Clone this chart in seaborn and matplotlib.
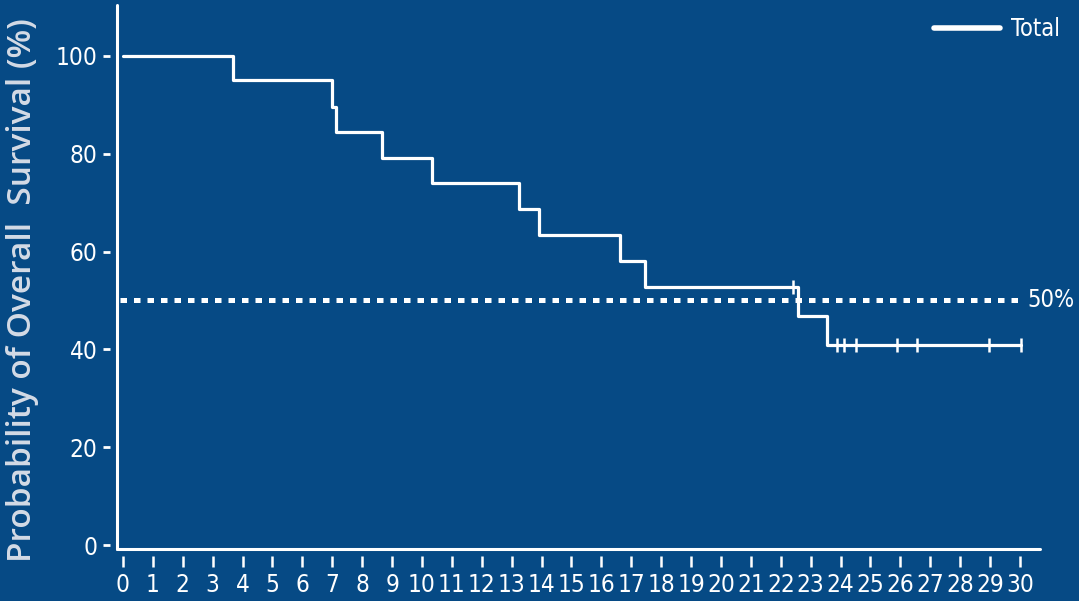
import numpy as np
import pandas as pd
import matplotlib
matplotlib.use('Agg')
import matplotlib.pyplot as plt
import seaborn as sns

# Kaplan-Meier steps (months, %)
times = [0, 3.68, 6.99, 7.12, 8.66, 10.33, 13.24, 13.9, 16.62, 17.46, 22.57, 23.55, 30.02]
surv = [100, 95.1, 89.6, 84.5, 79.1, 74.0, 68.7, 63.4, 58.1, 52.8, 46.8, 40.9, 40.9]

# censored observations
cens_times = [22.4, 23.88, 24.1, 24.5, 25.89, 26.54, 28.97, 30.02]
cens_surv = [52.8, 40.9, 40.9, 40.9, 40.9, 40.9, 40.9, 40.9]

x_ticks = list(range(0, 31))
y_ticks = [0, 20, 40, 60, 80, 100]
median_level = 50

bg = '#064a85'
fg = 'white'

sns.set_style('ticks')
plt.rcParams['font.family'] = ['DejaVu Sans']
plt.rcParams['font.stretch'] = 'condensed'

fig = plt.figure(figsize=(10.79, 6.01), dpi=100, facecolor=bg)
ax = fig.add_axes([117 / 1079, 52 / 601, (1040 - 117) / 1079, (549 - 5) / 601])
ax.set_facecolor(bg)

km = pd.DataFrame({'time': times, 'surv': surv})
sns.lineplot(data=km, x='time', y='surv', drawstyle='steps-post', color=fg,
             linewidth=2.3, ax=ax, label='Total', estimator=None)

cens = pd.DataFrame({'time': cens_times, 'surv': cens_surv})
sns.scatterplot(data=cens, x='time', y='surv', marker='|', s=110, color=fg,
                linewidth=1.8, ax=ax, legend=False)

xlim = (-0.2, 30.67)
ylim = (-0.8, 110.4)
ax.set_xlim(*xlim)
ax.set_ylim(*ylim)

# 50% reference line
ax.hlines(median_level, xlim[0] + 0.1, 29.95, colors=fg, linestyles=(0, (1.3, 1.4)),
          linewidth=3.6)
ax.text(30.25, median_level, f'{median_level}%', color=fg, fontsize=17,
        va='center', ha='left', clip_on=False)

# axes: ticks detached from the axis lines
for side in ['top', 'right']:
    ax.spines[side].set_visible(False)
for side in ['left', 'bottom']:
    ax.spines[side].set_position(('outward', 5))
    ax.spines[side].set_visible(False)
ax.axhline(ylim[0], color=fg, linewidth=2.2, clip_on=False)
ax.axvline(xlim[0], color=fg, linewidth=2.2, clip_on=False)

ax.set_xticks(x_ticks)
ax.set_xticklabels([str(t) for t in x_ticks])
ax.set_yticks(y_ticks)
ax.set_yticklabels([str(t) for t in y_ticks])
ax.tick_params(axis='x', colors=fg, length=8, width=1.8, labelsize=17.5, pad=4)
ax.tick_params(axis='y', colors=fg, length=5, width=2, labelsize=17.5, pad=4)

ax.set_xlabel('')
ax.set_ylabel('Probability of Overall  Survival (%)', color='#d4dbe6', fontsize=24,
              family=['Open Sans', 'DejaVu Sans'], stretch='normal', weight='semibold')
ax.yaxis.set_label_coords(-0.085, 0.476)

leg = ax.legend(loc='upper right', frameon=False, fontsize=17, handlelength=2.8,
                handletextpad=0.5, borderaxespad=0.1, bbox_to_anchor=(1.035, 1.0))
for txt in leg.get_texts():
    txt.set_color(fg)
for h in leg.legend_handles:
    h.set_linewidth(4)

fig.savefig('out.png', dpi=100, facecolor=bg)
